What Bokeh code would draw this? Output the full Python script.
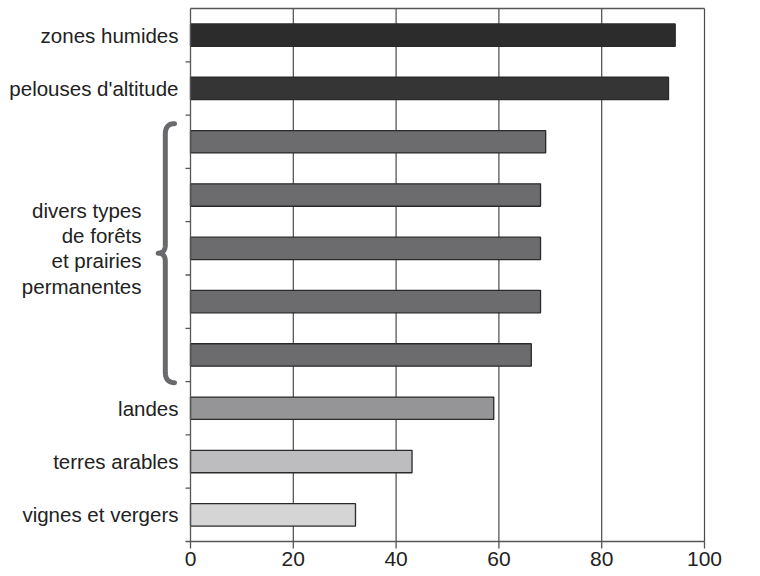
import numpy as np
from bokeh.plotting import figure
from bokeh.models import Range1d, ColumnDataSource
from bokeh.core.properties import value
from bokeh.embed import file_html
from bokeh.resources import INLINE

# ---- data ----
categories = ["zones humides", "pelouses d'altitude", "", "", "", "", "",
              "landes", "terres arables", "vignes et vergers"]
values = [94.3, 93.0, 69.1, 68.1, 68.1, 68.1, 66.3, 59.0, 43.1, 32.1]
bar_colors = ["#2c2c2c", "#353535", "#6c6c6e", "#6c6c6e", "#6c6c6e",
              "#6c6c6e", "#6c6c6e", "#959597", "#bdbdbf", "#d5d5d5"]
group_label = "divers types\nde forêts\net prairies\npermanentes"
group_members = [2, 3, 4, 5, 6]          # indices (from top) of the forest bars
x_ticks = [0, 20, 40, 60, 80, 100]
x_tick_labels = ["0", "20", "40", "60", "80", "100"]

FONT = "Liberation Sans"
AXIS_COLOR = "#555555"
TEXT_COLOR = "#222222"
n = len(categories)
centers = [n - i - 0.5 for i in range(n)]

# frame covers the whole figure; axes are drawn as glyphs
W, H = 744, 568
x0_px, x100_px = 190, 704       # pixel positions of 0 and 100
ytop_px, ybot_px = 8, 541       # pixel positions of the top line and of the axis
ppu_x = (x100_px - x0_px) / 100
ppu_y = (ybot_px - ytop_px) / n

p = figure(width=W, height=H, output_backend="svg", toolbar_location=None,
           x_range=Range1d(-x0_px / ppu_x, (W - x0_px) / ppu_x),
           y_range=Range1d(-(H - ybot_px) / ppu_y, n + ytop_px / ppu_y),
           min_border_left=0, min_border_right=0, min_border_top=0,
           min_border_bottom=0)
p.outline_line_color = None
p.background_fill_color = "white"
p.border_fill_color = "white"
p.axis.visible = False
p.grid.visible = False

# vertical grid lines
p.segment(x0=x_ticks[1:], y0=[0] * (len(x_ticks) - 1), x1=x_ticks[1:],
          y1=[n] * (len(x_ticks) - 1), line_color="#4a4a4a", line_width=1.2)

# bars
src = ColumnDataSource(dict(y=centers, right=values, color=bar_colors))
p.hbar(y="y", left=0, right="right", height=0.42, fill_color="color",
       line_color="#2a2a2a", line_width=1.3, source=src)

# frame: top line, left axis line, bottom axis line
p.segment(x0=[x_ticks[0], x_ticks[0], x_ticks[0]], y0=[n, 0, 0],
          x1=[x_ticks[-1], x_ticks[0], x_ticks[-1]], y1=[n, n, 0],
          line_color=AXIS_COLOR, line_width=1.3)
# left ticks at category boundaries
p.ray(x=[x_ticks[0]] * n, y=list(range(n)), length=5, angle=np.pi,
      length_units="screen", line_color=AXIS_COLOR, line_width=1.3)
# bottom ticks
p.ray(x=x_ticks, y=[0] * len(x_ticks), length=7, angle=-np.pi / 2,
      length_units="screen", line_color=AXIS_COLOR, line_width=1.3)
# bottom tick labels
p.text(x=x_ticks, y=[0] * len(x_ticks), text=x_tick_labels, y_offset=17,
       text_align="center", text_baseline="middle",
       text_font=value(FONT), text_font_size="21px", text_color=TEXT_COLOR)

# category labels
lab = ColumnDataSource(dict(x=[0] * n, y=centers, t=categories))
p.text(x="x", y="y", text="t", source=lab, x_offset=-12,
       text_align="right", text_baseline="middle",
       text_font=value(FONT), text_font_size="20.5px", text_color=TEXT_COLOR)

# group label + brace
g_top = n - group_members[0]
g_bot = n - group_members[-1] - 1
g_mid = (g_top + g_bot) / 2
p.text(x=[0], y=[g_mid], text=[group_label], x_offset=-49,
       text_align="right", text_baseline="middle", text_line_height=1.1,
       text_font=value(FONT), text_font_size="20.5px", text_color=TEXT_COLOR)

def qbez(p0, c, p1, k=20):
    t = np.linspace(0, 1, k)[:, None]
    return (1 - t) ** 2 * np.array(p0) + 2 * (1 - t) * t * np.array(c) + t ** 2 * np.array(p1)

xe, xv, xt = -3.1, -4.9, -6.3
top, bot = g_top - 0.16, g_bot - 0.02
mid = (top + bot) / 2
h, h2 = 0.2, 0.16
parts = [
    qbez((xe, top), (xv, top), (xv, top - h)),
    np.array([[xv, top - h], [xv, mid + h2]]),
    qbez((xv, mid + h2), (xv, mid), (xt, mid)),
    qbez((xt, mid), (xv, mid), (xv, mid - h2)),
    np.array([[xv, mid - h2], [xv, bot + h]]),
    qbez((xv, bot + h), (xv, bot), (xe, bot)),
]
pts = np.vstack(parts)
p.line(x=pts[:, 0], y=pts[:, 1], line_color="#6a6a6e", line_width=5,
       line_cap="round", line_join="round")

open("out.html", "w").write(file_html(p, INLINE))
